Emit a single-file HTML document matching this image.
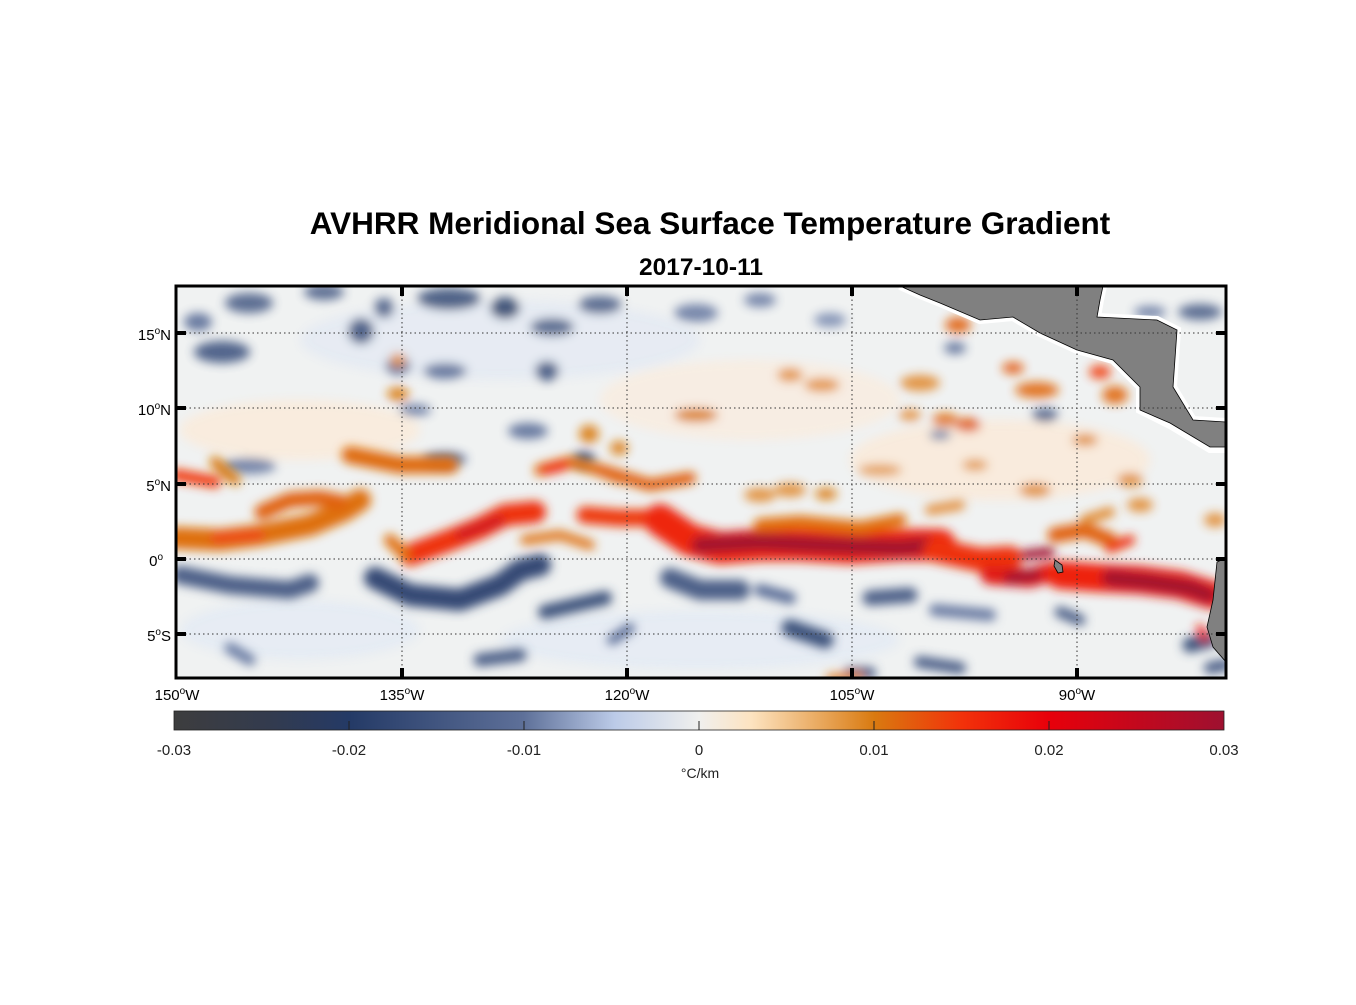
<!DOCTYPE html>
<html><head><meta charset="utf-8"><style>
body{margin:0;background:#fff;}
svg text{font-family:"Liberation Sans",Arial,sans-serif;}
</style></head><body>
<svg width="1356" height="1000" viewBox="0 0 1356 1000" xmlns="http://www.w3.org/2000/svg">
<defs>
<clipPath id="c"><rect x="176" y="286" width="1050" height="392"/></clipPath>
<filter id="b" x="-20%" y="-50%" width="140%" height="200%"><feGaussianBlur stdDeviation="5"/></filter>
<linearGradient id="cb" x1="0" x2="1" y1="0" y2="0">
<stop offset="0" stop-color="#3d3d3e"/>
<stop offset="0.09" stop-color="#333b4e"/>
<stop offset="0.167" stop-color="#243a66"/>
<stop offset="0.333" stop-color="#5e7099"/>
<stop offset="0.42" stop-color="#bccbe8"/>
<stop offset="0.5" stop-color="#f0f0ee"/>
<stop offset="0.55" stop-color="#fde3c0"/>
<stop offset="0.667" stop-color="#d97a10"/>
<stop offset="0.75" stop-color="#f2320a"/>
<stop offset="0.833" stop-color="#e8000a"/>
<stop offset="1" stop-color="#9e1030"/>
</linearGradient>
</defs>
<text x="710" y="234" font-size="31.5" font-weight="bold" text-anchor="middle">AVHRR Meridional Sea Surface Temperature Gradient</text>
<text x="701" y="275" font-size="24.5" font-weight="bold" text-anchor="middle">2017-10-11</text>
<g clip-path="url(#c)">
<rect x="176" y="286" width="1050" height="392" fill="#f0f2f2"/>
<g filter="url(#b)" opacity="0.9">
<ellipse cx="300" cy="430" rx="120" ry="30" fill="#fde8d2" opacity="0.7"/>
<ellipse cx="750" cy="400" rx="150" ry="40" fill="#fde9d6" opacity="0.6"/>
<ellipse cx="1000" cy="460" rx="150" ry="40" fill="#fde7d0" opacity="0.7"/>
<ellipse cx="700" cy="640" rx="200" ry="30" fill="#dfe8f5" opacity="0.7"/>
<ellipse cx="300" cy="630" rx="120" ry="30" fill="#dfe8f5" opacity="0.7"/>
<ellipse cx="500" cy="340" rx="200" ry="40" fill="#dfe7f3" opacity="0.7"/>
<ellipse cx="249" cy="303" rx="24" ry="10" fill="#4d6188"/>
<ellipse cx="198" cy="322" rx="14" ry="9" fill="#5a6d97"/>
<ellipse cx="222" cy="352" rx="28" ry="11" fill="#3f5580"/>
<ellipse cx="361" cy="331" rx="13" ry="13" fill="#3f5580"/>
<ellipse cx="384" cy="308" rx="10" ry="10" fill="#4d6188"/>
<ellipse cx="324" cy="292" rx="20" ry="8" fill="#4d6188"/>
<ellipse cx="449" cy="299" rx="32" ry="11" fill="#3d527c"/>
<ellipse cx="505" cy="308" rx="15" ry="11" fill="#33466e"/>
<ellipse cx="552" cy="327" rx="22" ry="9" fill="#4d6188"/>
<ellipse cx="547" cy="371" rx="12" ry="10" fill="#3f5580"/>
<ellipse cx="398" cy="366" rx="13" ry="9" fill="#5a6d97"/>
<ellipse cx="445" cy="371" rx="22" ry="8" fill="#5a6d97"/>
<ellipse cx="528" cy="431" rx="20" ry="8" fill="#5a6d97"/>
<ellipse cx="584" cy="459" rx="11" ry="8" fill="#3f5580"/>
<ellipse cx="249" cy="466" rx="27" ry="8" fill="#6a7ca3"/>
<ellipse cx="445" cy="459" rx="22" ry="7" fill="#5a6d97"/>
<ellipse cx="696" cy="313" rx="22" ry="9" fill="#6a7ca3"/>
<ellipse cx="600" cy="305" rx="22" ry="9" fill="#4d6188"/>
<ellipse cx="760" cy="300" rx="16" ry="7" fill="#6a7ca3"/>
<ellipse cx="830" cy="320" rx="16" ry="7" fill="#7a8bb0"/>
<ellipse cx="955" cy="348" rx="11" ry="6" fill="#5a6d97"/>
<ellipse cx="1045" cy="415" rx="13" ry="7" fill="#4d6188"/>
<ellipse cx="1200" cy="312" rx="22" ry="8" fill="#4d6188"/>
<ellipse cx="1150" cy="312" rx="16" ry="6" fill="#6a7ca3"/>
<ellipse cx="415" cy="410" rx="16" ry="6" fill="#6a7ca3"/>
<ellipse cx="940" cy="435" rx="11" ry="5" fill="#6a7ca3"/>
<ellipse cx="398" cy="360" rx="8" ry="7" fill="#e08a30"/>
<ellipse cx="398" cy="394" rx="11" ry="7" fill="#d97a10"/>
<ellipse cx="589" cy="434" rx="10" ry="9" fill="#d97a10"/>
<ellipse cx="619" cy="448" rx="9" ry="7" fill="#d97a10"/>
<ellipse cx="696" cy="415" rx="22" ry="7" fill="#d97a10"/>
<ellipse cx="822" cy="385" rx="18" ry="7" fill="#e39040"/>
<ellipse cx="790" cy="375" rx="13" ry="7" fill="#e39040"/>
<ellipse cx="958" cy="325" rx="13" ry="8" fill="#e06010"/>
<ellipse cx="920" cy="383" rx="20" ry="8" fill="#e08a30"/>
<ellipse cx="1013" cy="368" rx="11" ry="6" fill="#e25a10"/>
<ellipse cx="1037" cy="390" rx="22" ry="8" fill="#e06810"/>
<ellipse cx="1100" cy="372" rx="11" ry="7" fill="#f04010"/>
<ellipse cx="1115" cy="395" rx="13" ry="9" fill="#e06810"/>
<ellipse cx="945" cy="420" rx="13" ry="7" fill="#e07010"/>
<ellipse cx="968" cy="425" rx="13" ry="7" fill="#e05a10"/>
<ellipse cx="910" cy="415" rx="11" ry="6" fill="#e39040"/>
<ellipse cx="1085" cy="440" rx="13" ry="6" fill="#e08a30"/>
<ellipse cx="1130" cy="480" rx="13" ry="7" fill="#e08a30"/>
<ellipse cx="1035" cy="490" rx="16" ry="7" fill="#e08a30"/>
<ellipse cx="975" cy="465" rx="13" ry="6" fill="#e39a50"/>
<ellipse cx="880" cy="470" rx="22" ry="6" fill="#e39a50"/>
<ellipse cx="790" cy="490" rx="16" ry="7" fill="#e08a30"/>
<ellipse cx="760" cy="495" rx="16" ry="7" fill="#e08a30"/>
<ellipse cx="826" cy="494" rx="11" ry="6" fill="#d97a10"/>
<ellipse cx="1215" cy="520" rx="11" ry="7" fill="#e08a30"/>
<ellipse cx="1140" cy="505" rx="13" ry="7" fill="#e08a30"/>
</g>
<g filter="url(#b)" fill="none" stroke-linecap="round" stroke-linejoin="round">
<polyline points="180,575 230,585 290,590 310,583" stroke="#4d6188" stroke-width="18"/>
<polyline points="375,578 410,595 460,600 500,585 520,570 540,565" stroke="#354a74" stroke-width="22"/>
<polyline points="545,612 575,605 605,598" stroke="#3d527c" stroke-width="14"/>
<polyline points="480,660 520,655" stroke="#4d6188" stroke-width="13"/>
<polyline points="230,648 250,660" stroke="#6a7ca3" stroke-width="11"/>
<polyline points="612,640 630,628" stroke="#5a6d97" stroke-width="10"/>
<polyline points="670,578 700,590 740,590" stroke="#4d6188" stroke-width="20"/>
<polyline points="760,590 790,598" stroke="#5a6d97" stroke-width="12"/>
<polyline points="790,628 825,640" stroke="#3d527c" stroke-width="17"/>
<polyline points="870,598 910,595" stroke="#4d6188" stroke-width="15"/>
<polyline points="935,610 990,615" stroke="#6a7ca3" stroke-width="12"/>
<polyline points="1060,612 1080,620" stroke="#4d6188" stroke-width="11"/>
<polyline points="920,662 960,668" stroke="#4d6188" stroke-width="12"/>
<polyline points="1190,645 1210,640" stroke="#3d527c" stroke-width="15"/>
<polyline points="1210,668 1225,665" stroke="#4d6188" stroke-width="12"/>
<polyline points="850,673 870,673" stroke="#4d6188" stroke-width="12"/>
<polyline points="176,538 220,540 260,535 310,525 345,510 360,500" stroke="#de7010" stroke-width="22"/>
<polyline points="215,538 260,535" stroke="#f0401a" stroke-width="9"/>
<polyline points="262,512 290,500 320,498 340,502" stroke="#e06010" stroke-width="15"/>
<polyline points="176,475 215,482" stroke="#f03a10" stroke-width="12"/>
<polyline points="215,462 235,480" stroke="#d97a10" stroke-width="11"/>
<polyline points="350,455 400,465 450,465" stroke="#de6a10" stroke-width="17"/>
<polyline points="410,555 450,540 480,528 505,515 535,512" stroke="#ee3010" stroke-width="22"/>
<polyline points="460,535 500,520" stroke="#cc1420" stroke-width="9"/>
<polyline points="390,540 405,555" stroke="#e07010" stroke-width="12"/>
<polyline points="540,470 570,462 600,470 620,478" stroke="#e07010" stroke-width="12"/>
<polyline points="545,470 565,465" stroke="#f02a10" stroke-width="10"/>
<polyline points="525,540 560,535 590,545" stroke="#e07a20" stroke-width="10"/>
<polyline points="585,515 620,518 650,518" stroke="#ee3a10" stroke-width="17"/>
<polyline points="600,470 650,485 690,478" stroke="#e06010" stroke-width="12"/>
<polyline points="660,520 690,540 720,548 760,545 800,545 850,548 900,545 940,545" stroke="#ee2810" stroke-width="32"/>
<polyline points="700,545 760,542 820,545 900,548 930,545" stroke="#a3132f" stroke-width="17"/>
<polyline points="760,525 800,522 860,528 900,520" stroke="#e07010" stroke-width="13"/>
<polyline points="935,550 980,560 1010,558" stroke="#ee3010" stroke-width="24"/>
<polyline points="990,575 1030,578 1050,572" stroke="#e01a14" stroke-width="19"/>
<polyline points="1010,578 1035,575" stroke="#a3132f" stroke-width="12"/>
<polyline points="1025,555 1050,552" stroke="#a3132f" stroke-width="10"/>
<polyline points="1060,575 1100,578 1140,580 1180,585 1212,595" stroke="#ee2010" stroke-width="28"/>
<polyline points="1110,578 1150,582 1190,588 1208,595" stroke="#a3132f" stroke-width="17"/>
<polyline points="1055,535 1085,530 1110,540" stroke="#e06010" stroke-width="15"/>
<polyline points="1085,520 1110,512" stroke="#e08a30" stroke-width="10"/>
<polyline points="1110,548 1130,540" stroke="#ee3010" stroke-width="10"/>
<polyline points="1200,628 1205,638" stroke="#f02010" stroke-width="8"/>
<polyline points="930,510 960,505" stroke="#e39040" stroke-width="10"/>
<polyline points="830,678 860,676" stroke="#e07a20" stroke-width="8"/>
</g>
<polygon points="900,286 1103,286 1100,300 1097,317 1157,320 1177,330 1173,387 1193,420 1226,422 1226,449 1210,449 1170,425 1140,410 1140,387 1113,360 1077,350 1040,333 1013,317 980,320 940,303 920,295" fill="#fff" stroke="#fff" stroke-width="8"/>
<polygon points="900,286 1103,286 1100,300 1097,317 1157,320 1177,330 1173,387 1193,420 1226,422 1226,447 1210,447 1170,423 1140,410 1140,387 1113,360 1077,350 1040,333 1013,317 980,320 940,303 920,295" fill="#808080" stroke="#000" stroke-width="0.8"/>
<polygon points="1226,558 1217,562 1213,600 1207,627 1213,647 1226,662" fill="#808080" stroke="#000" stroke-width="0.8"/>
<polygon points="1055,560 1062,565 1063,572 1058,573 1054,566" fill="#808080" stroke="#000" stroke-width="0.8"/>
</g>
<g stroke="#333" stroke-width="1" stroke-dasharray="1.5,3">
<line x1="402" y1="286" x2="402" y2="678"/><line x1="627" y1="286" x2="627" y2="678"/>
<line x1="852" y1="286" x2="852" y2="678"/><line x1="1077" y1="286" x2="1077" y2="678"/>
<line x1="176" y1="333" x2="1226" y2="333"/><line x1="176" y1="408" x2="1226" y2="408"/>
<line x1="176" y1="484" x2="1226" y2="484"/><line x1="176" y1="559" x2="1226" y2="559"/>
<line x1="176" y1="634" x2="1226" y2="634"/>
</g>
<rect x="176" y="286" width="1050" height="392" fill="none" stroke="#000" stroke-width="3"/>
<g stroke="#000" stroke-width="4">
<line x1="402" y1="286" x2="402" y2="296"/><line x1="627" y1="286" x2="627" y2="296"/><line x1="852" y1="286" x2="852" y2="296"/><line x1="1077" y1="286" x2="1077" y2="296"/>
<line x1="402" y1="678" x2="402" y2="668"/><line x1="627" y1="678" x2="627" y2="668"/><line x1="852" y1="678" x2="852" y2="668"/><line x1="1077" y1="678" x2="1077" y2="668"/>
<line x1="176" y1="333" x2="186" y2="333"/><line x1="176" y1="408" x2="186" y2="408"/><line x1="176" y1="484" x2="186" y2="484"/><line x1="176" y1="559" x2="186" y2="559"/><line x1="176" y1="634" x2="186" y2="634"/>
<line x1="1226" y1="333" x2="1216" y2="333"/><line x1="1226" y1="408" x2="1216" y2="408"/><line x1="1226" y1="484" x2="1216" y2="484"/><line x1="1226" y1="559" x2="1216" y2="559"/><line x1="1226" y1="634" x2="1216" y2="634"/>
</g>
<g font-size="15" text-anchor="end">
<text x="171" y="340">15<tspan font-size="10" dy="-6">o</tspan><tspan dy="6">N</tspan></text>
<text x="171" y="415">10<tspan font-size="10" dy="-6">o</tspan><tspan dy="6">N</tspan></text>
<text x="171" y="491">5<tspan font-size="10" dy="-6">o</tspan><tspan dy="6">N</tspan></text>
<text x="163" y="566">0<tspan font-size="10" dy="-6">o</tspan></text>
<text x="171" y="641">5<tspan font-size="10" dy="-6">o</tspan><tspan dy="6">S</tspan></text>
</g>
<g font-size="15" text-anchor="middle">
<text x="177" y="700">150<tspan font-size="10" dy="-6">o</tspan><tspan dy="6">W</tspan></text>
<text x="402" y="700">135<tspan font-size="10" dy="-6">o</tspan><tspan dy="6">W</tspan></text>
<text x="627" y="700">120<tspan font-size="10" dy="-6">o</tspan><tspan dy="6">W</tspan></text>
<text x="852" y="700">105<tspan font-size="10" dy="-6">o</tspan><tspan dy="6">W</tspan></text>
<text x="1077" y="700">90<tspan font-size="10" dy="-6">o</tspan><tspan dy="6">W</tspan></text>
</g>
<rect x="174" y="711" width="1050" height="19" fill="url(#cb)" stroke="#222" stroke-width="0.8"/>
<g stroke="#222" stroke-width="1">
<line x1="349" y1="730" x2="349" y2="721"/><line x1="524" y1="730" x2="524" y2="721"/><line x1="699" y1="730" x2="699" y2="721"/><line x1="874" y1="730" x2="874" y2="721"/><line x1="1049" y1="730" x2="1049" y2="721"/>
</g>
<g font-size="15" text-anchor="middle" fill="#222">
<text x="174" y="755">-0.03</text><text x="349" y="755">-0.02</text><text x="524" y="755">-0.01</text><text x="699" y="755">0</text>
<text x="874" y="755">0.01</text><text x="1049" y="755">0.02</text><text x="1224" y="755">0.03</text>
<text x="700" y="778" font-size="14">°C/km</text>
</g>
</svg>
</body></html>
